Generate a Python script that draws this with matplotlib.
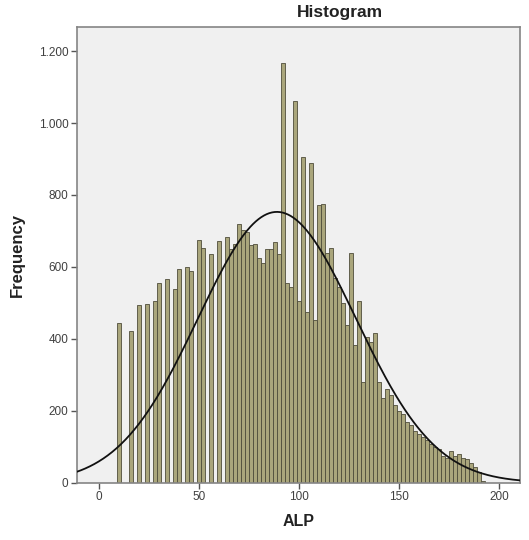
import numpy as np
import matplotlib
matplotlib.use("Agg")
import matplotlib.pyplot as plt

# ---- data ----
bin_centers = list(range(10, 194, 2))
bin_heights = [445, 0, 0, 423, 0, 493, 0, 498, 0, 504,      # 10-28
               556, 0, 566, 0, 538, 594, 0, 601, 589, 0,    # 30-48
               675, 652, 0, 635, 0, 673, 0, 682, 650, 665,  # 50-68
               718, 703, 698, 660, 665, 626, 610, 650, 650, 670,  # 70-88
               635, 1166, 556, 545, 1061, 504, 906, 476, 890, 453,  # 90-108
               772, 774, 640, 652, 568, 545, 500, 439, 638, 383,    # 110-128
               504, 281, 406, 392, 416, 281, 235, 262, 245, 216,    # 130-148
               200, 190, 168, 160, 145, 135, 128, 118, 108, 100,    # 150-168
               95, 75, 70, 88, 75, 80, 68, 65, 55, 45,              # 170-188
               30, 5]                                               # 190-192
bin_width = 2
curve_mean = 88.8
curve_sd = 39.5
curve_peak = 753

x_ticks = [0, 50, 100, 150, 200]
y_ticks = [0, 200, 400, 600, 800, 1000, 1200]
y_tick_labels = ["0", "200", "400", "600", "800", "1.000", "1.200"]

plt.rcParams['font.family'] = ['Liberation Sans', 'DejaVu Sans']

fig = plt.figure(figsize=(5.29, 5.40), dpi=100)
fig.patch.set_facecolor('white')
ax = fig.add_axes([0.145, 0.106, 0.838, 0.844])
ax.set_facecolor('#f0f0f0')

ax.bar(bin_centers, bin_heights, width=bin_width, color='#aaa67c',
       edgecolor='#4f4d3b', linewidth=0.6, zorder=2)

xs = np.linspace(-12, 212, 500)
ys = curve_peak * np.exp(-0.5 * ((xs - curve_mean) / curve_sd) ** 2)
ax.plot(xs, ys, color='#111111', linewidth=1.3, zorder=3)

ax.set_xlim(-11.3, 210.3)
ax.set_ylim(0, 1267)
ax.set_xticks(x_ticks)
ax.set_xticklabels([str(t) for t in x_ticks])
ax.set_yticks(y_ticks)
ax.set_yticklabels(y_tick_labels)
ax.tick_params(axis='both', direction='out', length=4, width=1.0,
               color='#555555', labelsize=8.5, labelcolor='#404040', pad=2)

for s in ax.spines.values():
    s.set_color('#858585')
    s.set_linewidth(1.2)

ax.set_xlabel('ALP', fontsize=11.5, fontweight='bold', color='#222222', labelpad=8)
ax.set_ylabel('Frequency', fontsize=12, fontweight='bold', color='#222222', labelpad=10)
fig.text(0.643, 0.976, 'Histogram', fontsize=12.5, fontweight='bold',
         color='#222222', ha='center', va='center')

fig.savefig('out.png', dpi=100)
